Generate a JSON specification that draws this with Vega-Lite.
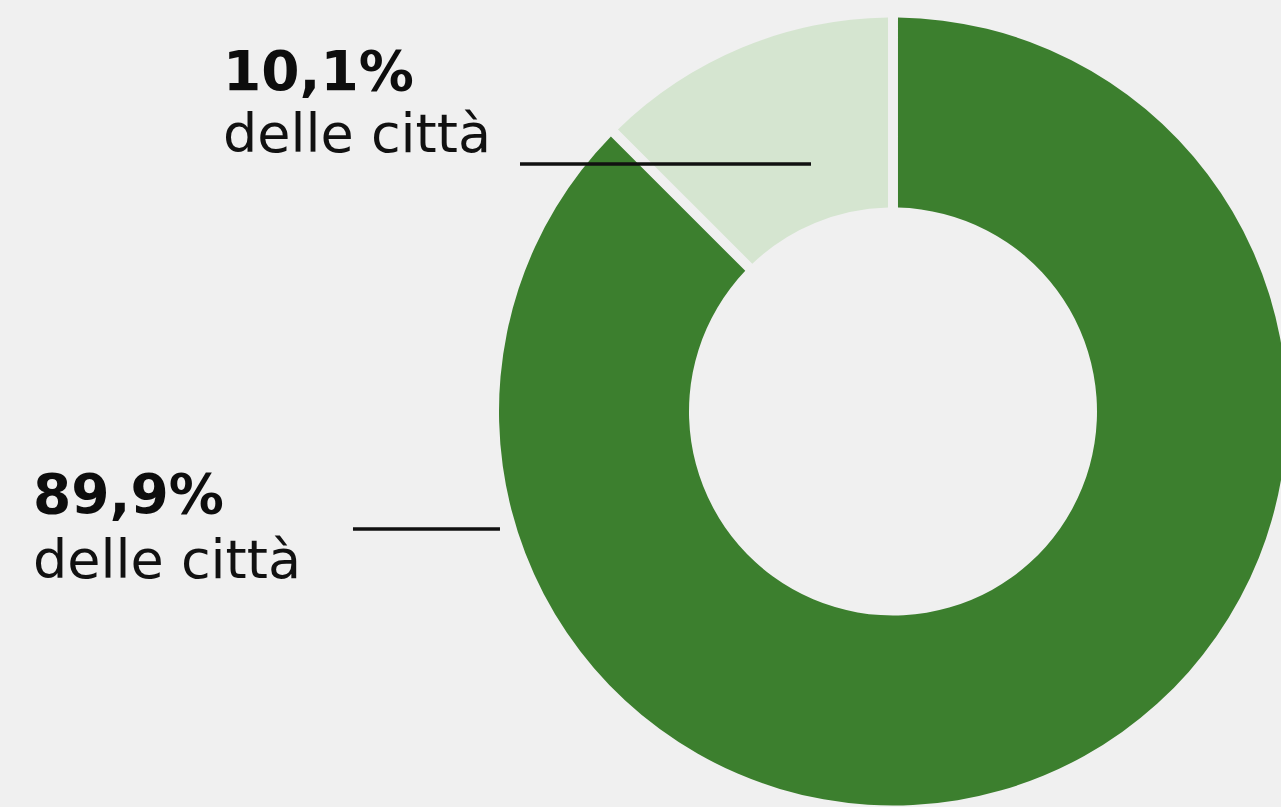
{
  "$schema": "https://vega.github.io/schema/vega-lite/v6.json",
  "width": 1281,
  "height": 807,
  "padding": 0,
  "autosize": {"type": "none"},
  "background": "#f0f0f0",
  "config": {"view": {"stroke": null}, "font": "DejaVu Sans"},
  "datasets": {
    "fette": [
      {"gruppo": "maggioranza", "quota": 89.9, "arco": 87.5},
      {"gruppo": "minoranza", "quota": 10.1, "arco": 12.5}
    ],
    "etichette": [
      {"gruppo": "minoranza", "valore": "10,1%", "testo": "delle città", "x": -1.7005, "y_valore": 0.816, "y_testo": 0.6586, "x1": -0.9467, "x2": -0.2081, "y_linea": 0.6282},
      {"gruppo": "maggioranza", "valore": "89,9%", "testo": "delle città", "x": -2.1827, "y_valore": -0.2576, "y_testo": -0.4226, "x1": -1.3706, "x2": -0.9975, "y_linea": -0.2982}
    ]
  },
  "layer": [
    {
      "data": {"name": "fette"},
      "mark": {"type": "arc", "outerRadius": 394, "innerRadius": 204, "padAngle": 0.0225},
      "encoding": {
        "x": {"datum": 0, "type": "quantitative", "scale": {"domain": [-2.2665, 0.9848], "nice": false, "zero": false}, "axis": null},
        "y": {"datum": 0, "type": "quantitative", "scale": {"domain": [-1.0038, 1.0444], "nice": false, "zero": false}, "axis": null},
        "theta": {"field": "arco", "type": "quantitative", "stack": true},
        "order": {"field": "gruppo", "sort": "ascending"},
        "color": {"field": "gruppo", "type": "nominal", "scale": {"domain": ["maggioranza", "minoranza"], "range": ["#3c7f2e", "#d5e5d0"]}, "legend": null}
      }
    },
    {
      "data": {"name": "etichette"},
      "mark": {"type": "text", "align": "left", "baseline": "alphabetic", "fontWeight": "bold", "fontSize": 55, "color": "#0d0d0d"},
      "encoding": {
        "x": {"field": "x", "type": "quantitative", "scale": {"domain": [-2.2665, 0.9848], "nice": false, "zero": false}, "axis": null},
        "y": {"field": "y_valore", "type": "quantitative", "scale": {"domain": [-1.0038, 1.0444], "nice": false, "zero": false}, "axis": null},
        "text": {"field": "valore"}
      }
    },
    {
      "data": {"name": "etichette"},
      "mark": {"type": "text", "align": "left", "baseline": "alphabetic", "fontWeight": "normal", "fontSize": 54, "color": "#111111"},
      "encoding": {
        "x": {"field": "x", "type": "quantitative", "axis": null},
        "y": {"field": "y_testo", "type": "quantitative", "axis": null},
        "text": {"field": "testo"}
      }
    },
    {
      "data": {"name": "etichette"},
      "mark": {"type": "rule", "strokeWidth": 3.5, "color": "#111111"},
      "encoding": {
        "x": {"field": "x1", "type": "quantitative", "axis": null},
        "x2": {"field": "x2"},
        "y": {"field": "y_linea", "type": "quantitative", "axis": null}
      }
    }
  ]
}
